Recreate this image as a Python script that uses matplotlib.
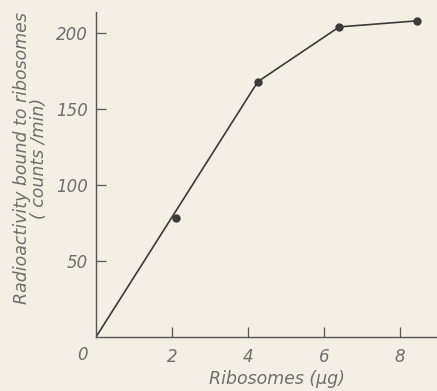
import matplotlib.pyplot as plt

# ribosome titration: bound radioactivity vs amount of ribosomes
line_x = [0, 4.26, 6.4, 8.45]
line_y = [0, 168, 204, 208]
pts_x = [2.1, 4.26, 6.4, 8.45]
pts_y = [78, 168, 204, 208]

xticks = [2, 4, 6, 8]
yticks = [50, 100, 150, 200]

bg = '#f4efe5'
ink = '#3a3a3a'
txt = '#6e6e6e'

plt.rcParams['font.family'] = 'DejaVu Sans'
plt.rcParams['font.style'] = 'italic'

fig = plt.figure(figsize=(4.37, 3.91), dpi=100, facecolor=bg)
ax = fig.add_axes([96/437, 54/391, 341/437, 325/391])
ax.set_facecolor(bg)

ax.plot(line_x, line_y, color=ink, lw=1.2, zorder=2)
ax.plot(pts_x, pts_y, 'o', color=ink, ms=5, zorder=3)

ax.set_xlim(0, 341/38)
ax.set_ylim(0, 325/1.52)
ax.spines['top'].set_visible(False)
ax.spines['right'].set_visible(False)
for s in ('left', 'bottom'):
    ax.spines[s].set_color('#555555')
    ax.spines[s].set_linewidth(1.0)

ax.set_xticks(xticks)
ax.set_yticks(yticks)
ax.set_xticklabels([str(v) for v in xticks])
ax.set_yticklabels([str(v) for v in yticks])
ax.tick_params(direction='in', length=7, width=0.9, color='#555555',
               labelsize=12, labelcolor=txt)
ax.tick_params(axis='x', pad=8)
ax.tick_params(axis='y', pad=6)
ax.text(-0.35, -12, '0', ha='center', va='center', fontsize=12, color=txt)

ax.set_xlabel('Ribosomes (μg)', fontsize=12.5, color=txt)
ax.xaxis.set_label_coords(0.53, -0.1)
ax.set_ylabel('Radioactivity bound to ribosomes\n( counts /min)', fontsize=12.5,
              color=txt, linespacing=0.95)
ax.yaxis.set_label_coords(-0.14, 0.55)

fig.savefig('out.png', dpi=100, facecolor=bg)
